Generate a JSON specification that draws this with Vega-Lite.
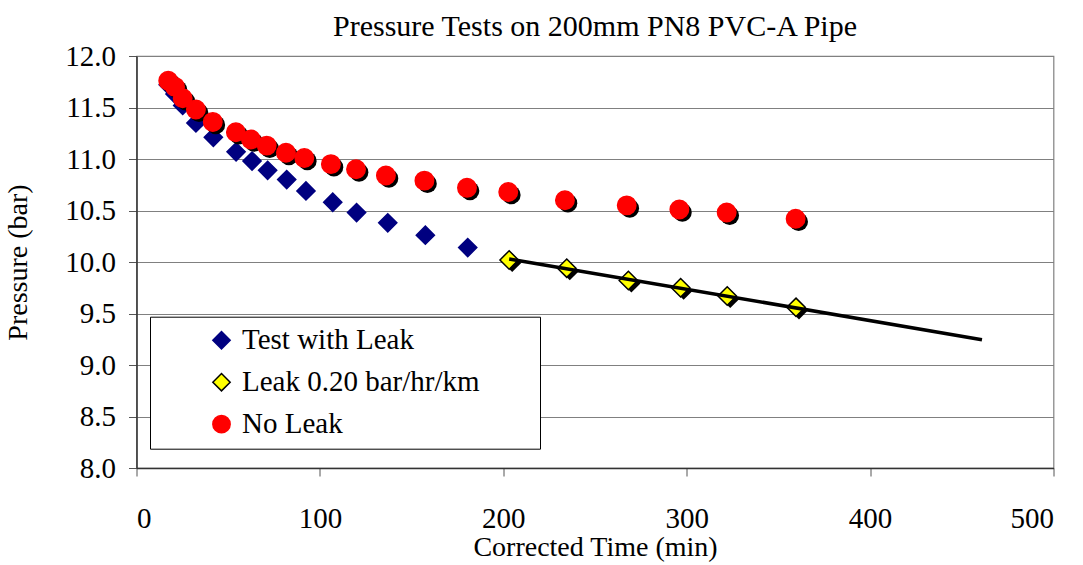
{
  "$schema": "https://vega.github.io/schema/vega-lite/v6.json",
  "width": 917,
  "height": 412,
  "autosize": {"type": "none"},
  "padding": {"left": 136.5, "top": 56, "right": 29.5, "bottom": 97},
  "background": "white",
  "config": {
    "view": {"stroke": "#808080", "strokeWidth": 1.2}
  },
  "title": {
    "text": "Pressure Tests on 200mm PN8 PVC-A Pipe",
    "font": "'Liberation Serif', 'Times New Roman', serif",
    "fontSize": 30,
    "fontWeight": "normal",
    "color": "black",
    "offset": 0,
    "anchor": "middle"
  },
  "datasets": {
    "pts": [
      {"t": 17.3, "p": 11.72, "s": "Test with Leak"},
      {"t": 21.0, "p": 11.63, "s": "Test with Leak"},
      {"t": 25.2, "p": 11.52, "s": "Test with Leak"},
      {"t": 32.4, "p": 11.35, "s": "Test with Leak"},
      {"t": 41.9, "p": 11.21, "s": "Test with Leak"},
      {"t": 54.3, "p": 11.07, "s": "Test with Leak"},
      {"t": 63.0, "p": 10.98, "s": "Test with Leak"},
      {"t": 71.5, "p": 10.89, "s": "Test with Leak"},
      {"t": 81.9, "p": 10.80, "s": "Test with Leak"},
      {"t": 92.4, "p": 10.69, "s": "Test with Leak"},
      {"t": 107.0, "p": 10.58, "s": "Test with Leak"},
      {"t": 120.0, "p": 10.48, "s": "Test with Leak"},
      {"t": 137.0, "p": 10.38, "s": "Test with Leak"},
      {"t": 157.5, "p": 10.26, "s": "Test with Leak"},
      {"t": 180.6, "p": 10.14, "s": "Test with Leak"},
      {"t": 17.3, "p": 11.76, "s": "No Leak"},
      {"t": 21.0, "p": 11.70, "s": "No Leak"},
      {"t": 25.2, "p": 11.59, "s": "No Leak"},
      {"t": 32.4, "p": 11.48, "s": "No Leak"},
      {"t": 41.6, "p": 11.36, "s": "No Leak"},
      {"t": 54.2, "p": 11.26, "s": "No Leak"},
      {"t": 62.4, "p": 11.19, "s": "No Leak"},
      {"t": 71.0, "p": 11.13, "s": "No Leak"},
      {"t": 81.5, "p": 11.06, "s": "No Leak"},
      {"t": 91.5, "p": 11.01, "s": "No Leak"},
      {"t": 106.0, "p": 10.95, "s": "No Leak"},
      {"t": 119.7, "p": 10.90, "s": "No Leak"},
      {"t": 136.0, "p": 10.84, "s": "No Leak"},
      {"t": 157.0, "p": 10.79, "s": "No Leak"},
      {"t": 180.2, "p": 10.72, "s": "No Leak"},
      {"t": 202.7, "p": 10.68, "s": "No Leak"},
      {"t": 233.6, "p": 10.60, "s": "No Leak"},
      {"t": 267.3, "p": 10.55, "s": "No Leak"},
      {"t": 296.0, "p": 10.51, "s": "No Leak"},
      {"t": 321.8, "p": 10.48, "s": "No Leak"},
      {"t": 359.4, "p": 10.42, "s": "No Leak"},
      {"t": 203.2, "p": 10.02, "s": "Leak 0.20 bar/hr/km"},
      {"t": 234.6, "p": 9.94, "s": "Leak 0.20 bar/hr/km"},
      {"t": 268.2, "p": 9.82, "s": "Leak 0.20 bar/hr/km"},
      {"t": 296.7, "p": 9.75, "s": "Leak 0.20 bar/hr/km"},
      {"t": 322.1, "p": 9.67, "s": "Leak 0.20 bar/hr/km"},
      {"t": 359.6, "p": 9.56, "s": "Leak 0.20 bar/hr/km"}
    ],
    "fit": [
      {"t": 203.2, "p": 10.03},
      {"t": 461.0, "p": 9.245}
    ]
  },
  "encoding": {
    "x": {
      "field": "t",
      "type": "quantitative",
      "scale": {"domain": [0, 500], "nice": false, "zero": false},
      "axis": {
        "title": "Corrected Time (min)",
        "values": [0, 100, 200, 300, 400, 500],
        "grid": false,
        "tickSize": 8,
        "tickColor": "#555555",
        "domainColor": "#333333",
        "domainWidth": 1.5,
        "labelFont": "'Liberation Serif', 'Times New Roman', serif",
        "labelFontSize": 29,
        "labelColor": "black",
        "labelPadding": 28,
        "titleFont": "'Liberation Serif', 'Times New Roman', serif",
        "titleFontSize": 28,
        "titleFontWeight": "normal",
        "titleColor": "black",
        "titlePadding": 0
      }
    },
    "y": {
      "field": "p",
      "type": "quantitative",
      "scale": {"domain": [8, 12], "nice": false, "zero": false},
      "axis": {
        "title": "Pressure (bar)",
        "values": [8, 8.5, 9, 9.5, 10, 10.5, 11, 11.5, 12],
        "format": ".1f",
        "grid": true,
        "gridColor": "#808080",
        "gridWidth": 1.2,
        "tickSize": 8,
        "tickColor": "#555555",
        "domainColor": "#333333",
        "domainWidth": 1.5,
        "labelFont": "'Liberation Serif', 'Times New Roman', serif",
        "labelFontSize": 29,
        "labelColor": "black",
        "labelPadding": 13,
        "titleFont": "'Liberation Serif', 'Times New Roman', serif",
        "titleFontSize": 28,
        "titleFontWeight": "normal",
        "titleColor": "black",
        "titlePadding": 32
      }
    }
  },
  "layer": [
    {
      "data": {"name": "pts"},
      "transform": [{"filter": "datum.s === 'Test with Leak'"}],
      "mark": {"type": "point", "filled": true, "size": 330, "strokeWidth": 1.5, "opacity": 1},
      "encoding": {
        "fill": {
          "field": "s",
          "type": "nominal",
          "scale": {
            "domain": ["Test with Leak", "Leak 0.20 bar/hr/km", "No Leak"],
            "range": ["#000080", "#FFFF00", "#FF0000"]
          },
          "legend": {
            "orient": "none",
            "legendX": 13.5,
            "legendY": 260.7,
            "title": null,
            "strokeColor": "black",
            "fillColor": "white",
            "padding": 9,
            "labelFont": "'Liberation Serif', 'Times New Roman', serif",
            "labelFontSize": 29,
            "labelColor": "black",
            "labelLimit": 600,
            "labelOffset": 6,
            "symbolOffset": 48,
            "rowPadding": 12,
            "symbolSize": 300,
            "symbolStrokeWidth": 1.5,
            "labelExpr": "datum.label + '\u00a0\u00a0\u00a0\u00a0\u00a0\u00a0\u00a0\u200b'"
          }
        },
        "shape": {
          "field": "s",
          "type": "nominal",
          "scale": {
            "domain": ["Test with Leak", "Leak 0.20 bar/hr/km", "No Leak"],
            "range": ["diamond", "diamond", "circle"]
          }
        },
        "stroke": {
          "field": "s",
          "type": "nominal",
          "scale": {
            "domain": ["Test with Leak", "Leak 0.20 bar/hr/km", "No Leak"],
            "range": ["#000080", "#000000", "#FF0000"]
          }
        }
      }
    },
    {
      "data": {"name": "pts"},
      "transform": [{"filter": "datum.s === 'No Leak'"}],
      "mark": {"type": "point", "filled": true, "shape": "circle", "size": 350, "color": "black", "xOffset": 3, "yOffset": 3, "opacity": 1}
    },
    {
      "data": {"name": "pts"},
      "transform": [{"filter": "datum.s === 'Leak 0.20 bar/hr/km'"}],
      "mark": {"type": "point", "filled": true, "shape": "diamond", "size": 330, "color": "black", "xOffset": 3, "yOffset": 3, "opacity": 1}
    },
    {
      "data": {"name": "pts"},
      "transform": [{"filter": "datum.s !== 'Test with Leak'"}],
      "mark": {"type": "point", "filled": true, "size": 340, "strokeWidth": 1.5, "opacity": 1},
      "encoding": {
        "fill": {"field": "s", "type": "nominal"},
        "shape": {"field": "s", "type": "nominal"},
        "stroke": {"field": "s", "type": "nominal"}
      }
    },
    {
      "data": {"name": "fit"},
      "mark": {"type": "line", "color": "black", "strokeWidth": 3.5},
      "encoding": {}
    }
  ]
}
